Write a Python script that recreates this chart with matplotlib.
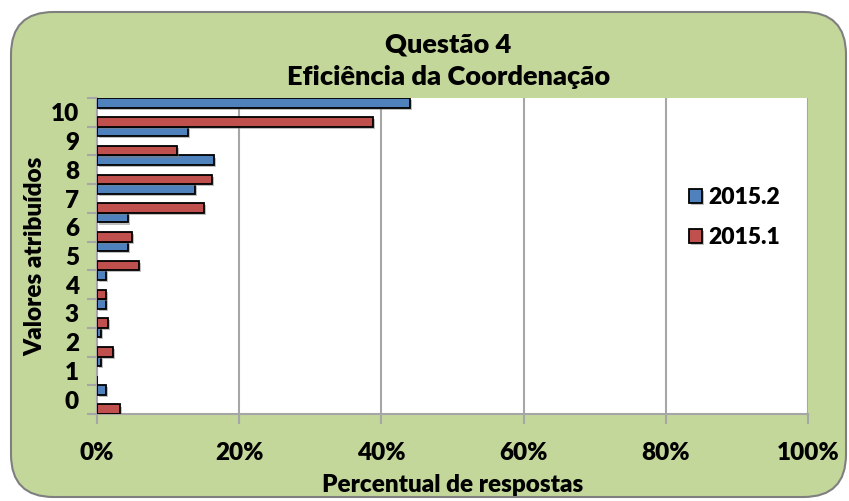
import numpy as np
import matplotlib.pyplot as plt
import matplotlib.patheffects as pe
from matplotlib.patches import FancyBboxPatch
from matplotlib.ticker import FuncFormatter

plt.rcParams['font.family'] = ['Lato', 'DejaVu Sans']
plt.rcParams['font.weight'] = 'heavy'
PESO = 'heavy'

notas = list(range(11))
pct_2015_2 = [1.2, 0.6, 0.6, 1.2, 1.2, 4.3, 4.3, 13.8, 16.5, 12.8, 44.0]
pct_2015_1 = [3.2, 0.0, 2.2, 1.6, 1.2, 5.9, 4.9, 15.0, 16.2, 11.3, 38.8]

fig = plt.figure(figsize=(8.49, 5.01), dpi=100)
fig.patch.set_facecolor('white')

# fundo verde com cantos arredondados
fundo = FancyBboxPatch((11 / 849, 1 - 497 / 501), 835 / 849, 485 / 501,
                       boxstyle='round,pad=0,rounding_size=0.05',
                       transform=fig.transFigure, facecolor='#c4d79b',
                       edgecolor='#7f7f7f', linewidth=1.5, mutation_aspect=849 / 501,
                       zorder=-5)
fig.patches.append(fundo)

ax = fig.add_axes([97 / 849, 1 - 414 / 501, 711 / 849, 316 / 501])
ax.set_facecolor('white')

y = np.arange(len(notas))
h = 1 / 3
sombra = [pe.SimplePatchShadow(offset=(1.5, -1.5), shadow_rgbFace='#808080', alpha=0.5), pe.Normal()]
b2 = ax.barh(y + h, pct_2015_2, height=h, color='#4f81bd', edgecolor='black',
             linewidth=1.3, label='2015.2', zorder=3)
b1 = ax.barh(y - h, pct_2015_1, height=h, color='#c0504d', edgecolor='black',
             linewidth=1.3, label='2015.1', zorder=3)
for b in list(b2) + list(b1):
    b.set_path_effects(sombra)

ax.set_xlim(0, 100)
ax.set_ylim(-0.5, 10.5)
ax.set_xticks(np.arange(0, 101, 20))
ax.xaxis.set_major_formatter(FuncFormatter(lambda v, p: f'{v:.0f}%'))
ax.grid(axis='x', color='#a6a6a6', linewidth=1.5, zorder=0)

ax.set_yticks(np.arange(-0.5, 11, 1))
ax.set_yticklabels([])
ax.set_yticks(y, minor=True)
ax.set_yticklabels([str(n) for n in notas], minor=True, fontweight=PESO)
ax.tick_params(axis='y', which='major', length=7, width=1.5, color='#a6a6a6')
ax.tick_params(axis='y', which='minor', length=0, pad=13, labelsize=17.5)
ax.tick_params(axis='x', length=7, width=1.5, color='#a6a6a6', pad=13, labelsize=17.5)
for lbl in ax.get_xticklabels():
    lbl.set_fontweight(PESO)

for lado in ['top', 'right']:
    ax.spines[lado].set_visible(False)
for lado in ['left', 'bottom']:
    ax.spines[lado].set_color('#a6a6a6')
    ax.spines[lado].set_linewidth(1.5)

ax.set_xlabel('Percentual de respostas', fontsize=17.5, fontweight=PESO, labelpad=7)
ax.set_ylabel('Valores atribuídos', fontsize=17.5, fontweight=PESO, labelpad=3)

fig.text(0.528, 1 - 45 / 501, 'Questão 4', ha='center', va='center', fontsize=19.5, fontweight=PESO)
fig.text(0.528, 1 - 77 / 501, 'Eficiência da Coordenação', ha='center', va='center',
         fontsize=19.5, fontweight=PESO)

leg = ax.legend(handles=[b2, b1], loc='center left', bbox_to_anchor=(0.833, 0.622),
                frameon=False, handlelength=0.55, handleheight=0.55, borderpad=0,
                borderaxespad=0, handletextpad=0.3, labelspacing=0.85,
                prop={'weight': PESO, 'size': 16.5})

fig.savefig('out.png', dpi=100, facecolor='white')
